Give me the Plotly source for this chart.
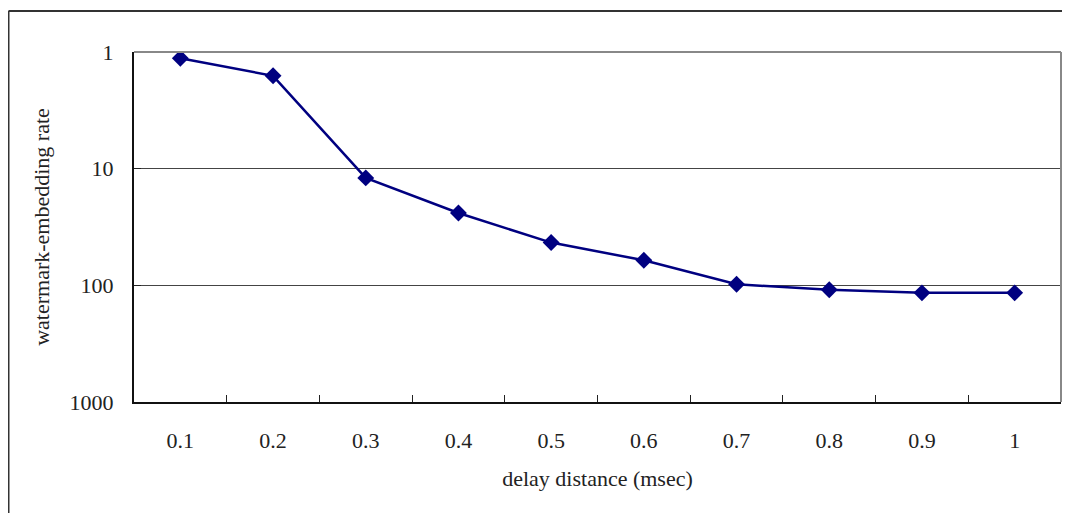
import plotly.graph_objects as go

delay = ["0.1", "0.2", "0.3", "0.4", "0.5", "0.6", "0.7", "0.8", "0.9", "1"]
rate = [1.13, 1.6, 12, 24, 43, 61, 98, 109, 116, 116]
y_ticks = [1, 10, 100, 1000]
y_ticktext = ["1", "10", "100", "1000"]

FONT = "Liberation Serif"
OFF = 8  # page body margin
W, H = 1070 - OFF, 513 - OFF
L, R, T, B = 134 - OFF, 9, 52 - OFF, 111
pw, ph = W - L - R, H - T - B

def px(x):
    return (x - OFF - L) / pw

def py(y):
    return (H - B - (y - OFF)) / ph

fig = go.Figure()
fig.add_trace(go.Scatter(
    x=delay, y=rate, mode="lines+markers",
    line=dict(color="#000080", width=2.5),
    marker=dict(symbol="diamond", size=13, color="#000080"),
    showlegend=False,
))

fig.update_layout(
    width=W, height=H,
    margin=dict(l=L, r=R, t=T, b=B),
    paper_bgcolor="white", plot_bgcolor="white",
    font=dict(family=FONT, size=22, color="#222222"),
    xaxis=dict(
        type="category", range=[-0.5, 9.5], tickson="boundaries",
        ticks="inside", ticklen=7, tickcolor="#222222", tickwidth=1,
        showline=True, linecolor="#111111", linewidth=2,
        showgrid=False, zeroline=False,
        ticklabelstandoff=18,
        title=dict(text="delay distance (msec)", standoff=18,
                   font=dict(family=FONT, size=22, color="#222222")),
    ),
    yaxis=dict(
        type="log", range=[3, 0], tickmode="array",
        tickvals=y_ticks, ticktext=y_ticktext,
        ticks="inside", ticklen=7, tickcolor="#222222", tickwidth=1,
        showline=True, linecolor="#111111", linewidth=2,
        showgrid=True, gridcolor="#444444", gridwidth=1,
        zeroline=False, ticklabelstandoff=14,
        title=dict(text="watermark-embedding rate", standoff=14,
                   font=dict(family=FONT, size=22, color="#222222")),
    ),
    shapes=[
        dict(type="line", xref="paper", yref="paper", x0=0, x1=1, y0=1, y1=1,
             line=dict(color="#888888", width=2)),
        dict(type="line", xref="paper", yref="paper", x0=1, x1=1, y0=0, y1=1,
             line=dict(color="#888888", width=2)),
        dict(type="line", xref="paper", yref="paper",
             x0=px(8.5), x1=px(1080), y0=py(11), y1=py(11),
             line=dict(color="#333333", width=2)),
        dict(type="line", xref="paper", yref="paper",
             x0=px(8.5), x1=px(8.5), y0=py(11), y1=py(530),
             line=dict(color="#333333", width=2)),
    ],
)

fig.write_html("out.html")
